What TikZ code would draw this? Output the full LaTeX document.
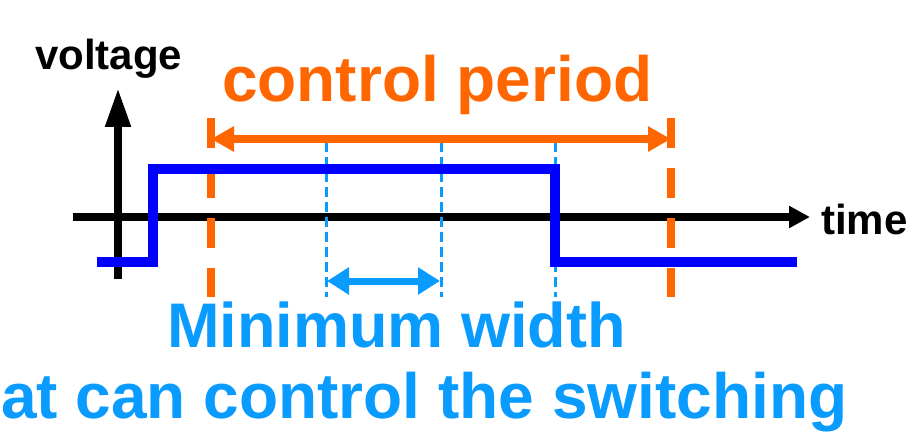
\documentclass[tikz,border=0pt]{standalone}
\usepackage{fontspec}
\setmainfont{Liberation Sans}
\usetikzlibrary{arrows.meta}
\definecolor{sigblue}{HTML}{0000FF}
\definecolor{orng}{HTML}{FF6600}
\definecolor{lblue}{HTML}{0A9BFF}
\tikzset{
  axis/.style={line width=8pt, black},
  odash/.style={line width=8pt, orng, dash pattern=on 30pt off 20pt},
  bdash/.style={line width=3pt, lblue, dash pattern=on 10pt off 5pt},
  signal/.style={line width=10pt, sigblue, miter limit=10},
  lbl/.style={inner sep=0pt, font=\bfseries},
}
\begin{document}
\begin{tikzpicture}[x=1pt,y=-1pt]
\useasboundingbox (0,0) rectangle (920,446);
% coordinates
\coordinate (vb) at (118,279);
\coordinate (vt) at (118,88);
\coordinate (hl) at (73,217);
\coordinate (hr) at (810,217);
\coordinate (oL1) at (211,118); \coordinate (oL2) at (211,297);
\coordinate (oR1) at (671,118); \coordinate (oR2) at (671,297);
\coordinate (oA1) at (211,139); \coordinate (oA2) at (671,139);
\coordinate (d1a) at (326,142); \coordinate (d1b) at (326,297);
\coordinate (d2a) at (441,142); \coordinate (d2b) at (441,297);
\coordinate (d3a) at (555,142); \coordinate (d3b) at (555,297);
\coordinate (wA) at (327,281); \coordinate (wB) at (440,281);
\coordinate (s0) at (97,262);
\coordinate (s1) at (153,262);
\coordinate (s2) at (153,169);
\coordinate (s3) at (555,169);
\coordinate (s4) at (555,262);
\coordinate (s5) at (797,262);
% axes
\draw[axis, -{Triangle[length=39pt,width=24pt]}] (vb) -- (vt);
\draw[axis, -{Triangle[length=21pt,width=21pt]}] (hl) -- (hr);
% dashed guides
\draw[odash] (oL1) -- (oL2);
\draw[odash] (oR1) -- (oR2);
\draw[bdash] (d1a) -- (d1b);
\draw[bdash] (d2a) -- (d2b);
\draw[bdash] (d3a) -- (d3b);
% arrows
\draw[line width=8pt, orng, {Triangle[length=23pt,width=24pt]}-{Triangle[length=23pt,width=24pt]}] (oA1) -- (oA2);
\draw[line width=7pt, lblue, {Triangle[length=22pt,width=26pt]}-{Triangle[length=22pt,width=26pt]}] (wA) -- (wB);
% signal
\draw[signal] (s0) -- (s1) -- (s2) -- (s3) -- (s4) -- (s5);
% labels
\node[lbl, anchor=base west, font=\bfseries\fontsize{42}{42}\selectfont] (volt) at (35,70) {voltage};
\node[lbl, anchor=base west, font=\bfseries\fontsize{42}{42}\selectfont] (time) at (821,235) {time};
\node[lbl, anchor=base west, orng, font=\bfseries\fontsize{64}{64}\selectfont] (cp) at (222,102) {control period};
\node[lbl, anchor=base west, lblue, font=\bfseries\fontsize{63}{63}\selectfont] (mw) at (167,347) {Minimum width};
\node[lbl, anchor=base west, lblue, font=\bfseries\fontsize{64}{64}\selectfont] (cs) at (1,418) {at can control the switching};
\end{tikzpicture}
\end{document}
